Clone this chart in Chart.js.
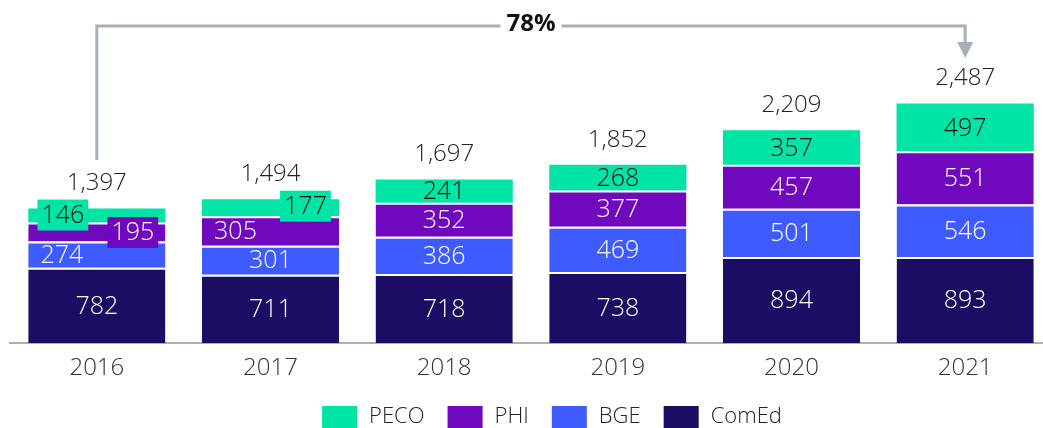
<!DOCTYPE html>
<html lang="en">
<head>
    <meta charset="UTF-8">
    <title>Utility totals 2016-2021</title>
    <script src="https://cdn.jsdelivr.net/npm/chart.js"></script>
    <style>
        body {
            margin: 0;
            padding: 0;
            overflow: hidden;
            background-color: #ffffff;
        }
        #wrap {
            width: 1052px;
            height: 428px;
        }
    </style>
</head>
<body>
    <div id="wrap"><canvas id="myChart" width="1052" height="428"></canvas></div>

    <script>
        // Data
        const years = ['2016', '2017', '2018', '2019', '2020', '2021'];
        const comed = [782, 711, 718, 738, 894, 893];
        const bge = [274, 301, 386, 469, 501, 546];
        const phi = [195, 305, 352, 377, 457, 551];
        const peco = [146, 177, 241, 268, 357, 497];

        const FONT = "'Open Sans', 'DejaVu Sans', sans-serif";

        // label nudges for the thin segments (dataset-index)
        const labelTweaks = {
            '3-0': { dx: -34, dy: -1, boxed: true },
            '2-0': { dx: 36, dy: 0, boxed: true },
            '1-0': { dx: -35, dy: 0 },
            '3-1': { dx: 35, dy: -2, boxed: true },
            '2-1': { dx: -35, dy: 0 }
        };

        const totals = years.map((_, i) => comed[i] + bge[i] + phi[i] + peco[i]);

        const barLabels = {
            id: 'barLabels',
            afterDatasetsDraw(chart) {
                const ctx = chart.ctx;
                ctx.save();
                ctx.textAlign = 'center';
                ctx.textBaseline = 'middle';
                chart.data.datasets.forEach((ds, di) => {
                    const meta = chart.getDatasetMeta(di);
                    meta.data.forEach((bar, i) => {
                        const t = labelTweaks[di + '-' + i] || { dx: 0, dy: 0 };
                        const x = bar.x + t.dx;
                        const y = (bar.y + bar.base) / 2 + t.dy;
                        ctx.font = '300 25px ' + FONT;
                        const txt = String(ds.data[i]);
                        if (t.boxed) {
                            const w = ctx.measureText(txt).width + 8;
                            ctx.fillStyle = ds.backgroundColor;
                            ctx.fillRect(x - w / 2, y - 15, w, 31);
                        }
                        ctx.fillStyle = ds.textColor;
                        ctx.fillText(txt, x, y + 1);
                    });
                });

                // totals above the stacks
                const top = chart.getDatasetMeta(3);
                ctx.font = '300 24px ' + FONT;
                ctx.fillStyle = '#222222';
                top.data.forEach((bar, i) => {
                    ctx.fillText(totals[i].toLocaleString('en-US'), bar.x, bar.y - 25);
                });
                ctx.restore();
            }
        };

        const growthArrow = {
            id: 'growthArrow',
            afterDraw(chart) {
                const ctx = chart.ctx;
                const xs = chart.scales.x;
                const x1 = xs.getPixelForValue(0);
                const x2 = xs.getPixelForValue(years.length - 1);
                const lineY = 26;
                const label = Math.round((totals[totals.length - 1] - totals[0]) / totals[0] * 100) + '%';
                ctx.save();
                ctx.strokeStyle = '#a7afb7';
                ctx.fillStyle = '#a7afb7';
                ctx.lineWidth = 3;
                ctx.font = 'bold 24px ' + FONT;
                const mid = (x1 + x2) / 2;
                const tw = ctx.measureText(label).width;
                ctx.beginPath();
                ctx.moveTo(x1, 160);
                ctx.lineTo(x1, lineY);
                ctx.lineTo(mid - tw / 2 - 6, lineY);
                ctx.moveTo(mid + tw / 2 + 6, lineY);
                ctx.lineTo(x2, lineY);
                ctx.lineTo(x2, 42);
                ctx.stroke();
                ctx.beginPath();
                ctx.moveTo(x2 - 8, 42);
                ctx.lineTo(x2 + 8, 42);
                ctx.lineTo(x2, 58);
                ctx.closePath();
                ctx.fill();
                ctx.fillStyle = '#111111';
                ctx.textAlign = 'center';
                ctx.textBaseline = 'middle';
                ctx.fillText(label, mid, lineY - 2);
                ctx.restore();
            }
        };

        const bottomLegend = {
            id: 'bottomLegend',
            afterDraw(chart) {
                const ctx = chart.ctx;
                const items = chart.data.datasets.slice().reverse();
                const boxW = 35, boxH = 22, gap = 12, spacing = 23;
                ctx.save();
                ctx.font = '300 22px ' + FONT;
                let total = 0;
                items.forEach((ds, k) => {
                    total += boxW + gap + ctx.measureText(ds.label).width + (k ? spacing : 0);
                });
                let x = 552 - total / 2;
                const y = 417;
                ctx.textBaseline = 'middle';
                ctx.textAlign = 'left';
                items.forEach(ds => {
                    ctx.fillStyle = ds.backgroundColor;
                    ctx.fillRect(x, y - boxH / 2, boxW, boxH);
                    x += boxW + gap;
                    ctx.fillStyle = '#222222';
                    ctx.fillText(ds.label, x, y);
                    x += ctx.measureText(ds.label).width + spacing;
                });
                ctx.restore();
            }
        };

        const ctx = document.getElementById('myChart').getContext('2d');
        new Chart(ctx, {
            type: 'bar',
            data: {
                labels: years,
                datasets: [
                    { label: 'ComEd', data: comed, backgroundColor: '#1b0d63', textColor: '#ffffff', borderWidth: { top: 2, left: 0, right: 0, bottom: 0 } },
                    { label: 'BGE', data: bge, backgroundColor: '#3d5bff', textColor: '#ffffff', borderWidth: { top: 2, left: 0, right: 0, bottom: 0 } },
                    { label: 'PHI', data: phi, backgroundColor: '#7008be', textColor: '#ffffff', borderWidth: { top: 2, left: 0, right: 0, bottom: 0 } },
                    { label: 'PECO', data: peco, backgroundColor: '#00e4a6', textColor: '#111111', borderWidth: 0 }
                ]
            },
            options: {
                responsive: false,
                animation: false,
                layout: { padding: { left: 10, right: 0, top: 0, bottom: 34 } },
                datasets: {
                    bar: {
                        borderColor: '#ffffff',
                        borderSkipped: false,
                        barPercentage: 0.79,
                        categoryPercentage: 1
                    }
                },
                scales: {
                    x: {
                        stacked: true,
                        grid: { display: false, drawTicks: false },
                        border: { color: '#a9b0b8', width: 2 },
                        ticks: { color: '#333333', font: { family: FONT, size: 24, weight: 300 }, padding: 11 }
                    },
                    y: {
                        stacked: true,
                        display: false,
                        min: 0,
                        max: 3560
                    }
                },
                plugins: {
                    legend: { display: false },
                    tooltip: { enabled: false }
                }
            },
            plugins: [barLabels, growthArrow, bottomLegend]
        });
    </script>
</body>
</html>
